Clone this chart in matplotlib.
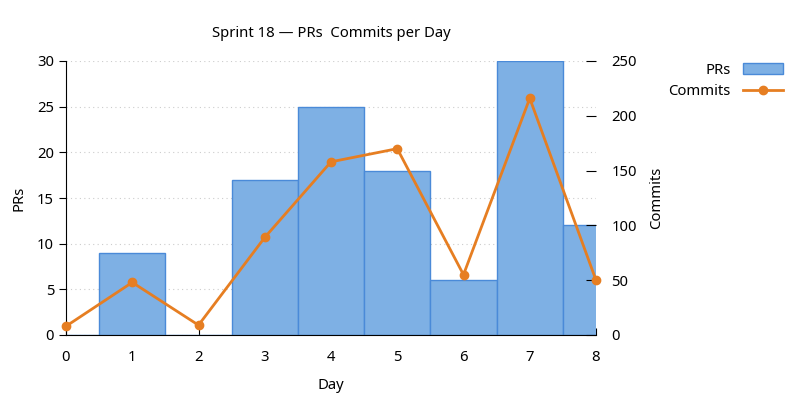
import matplotlib
matplotlib.use('Agg')
import matplotlib.pyplot as plt
from matplotlib.lines import Line2D
from matplotlib.patches import Patch

plt.rcParams['font.family'] = ['Noto Sans', 'DejaVu Sans']
plt.rcParams['font.size'] = 10.7

# data
days = [0, 1, 2, 3, 4, 5, 6, 7, 8]
prs = [0, 9, 0, 17, 25, 18, 6, 30, 12]
commits = [8, 48, 9, 89, 158, 170, 55, 216, 50]

bar_color = '#7eb0e4'
bar_edge = '#4a8ad8'
line_color = '#e67e22'

fig = plt.figure(figsize=(8, 4), dpi=100)
ax = fig.add_axes([0.0825, 0.1625, 0.6625, 0.685])
ax.bar(days, prs, width=1.0, color=bar_color, edgecolor=bar_edge, linewidth=1, zorder=2)
ax.set_xlim(0, 8)
ax.set_ylim(0, 30)
ax.set_xticks(days)
ax.set_yticks([0, 5, 10, 15, 20, 25, 30])
ax.grid(axis='y', color='#cccccc', linestyle=(0, (1, 3)), linewidth=0.8, zorder=0)
ax.set_axisbelow(True)
ax.spines['top'].set_visible(False)
ax.spines['right'].set_visible(False)
ax.tick_params(axis='x', direction='in', length=5, pad=11)
ax.tick_params(axis='y', direction='out', length=5)
ax.set_xlabel('Day', labelpad=9)
ax.set_ylabel('PRs', labelpad=8)

ax2 = ax.twinx()
ax2.plot(days, commits, color=line_color, linewidth=2, marker='o', markersize=6, zorder=3, clip_on=False)
ax2.set_ylim(0, 250)
ax2.set_yticks([0, 50, 100, 150, 200, 250])
for s in ax2.spines.values():
    s.set_visible(False)
ax2.tick_params(axis='y', direction='in', length=7, pad=11)
ax2.set_ylabel('Commits', labelpad=9)

ax.set_title('Sprint 18 \u2014 PRs  Commits per Day', fontsize=10.7, pad=17)

handles = [Patch(facecolor=bar_color, edgecolor=bar_edge),
           Line2D([], [], color=line_color, linewidth=2, marker='o', markersize=6)]
fig.legend(handles, ['PRs', 'Commits'], loc='upper right', bbox_to_anchor=(0.995, 0.877),
           frameon=False, markerfirst=False, handlelength=2.7, labelspacing=0.45)

fig.savefig('out.png', dpi=100)
plt.close(fig)
